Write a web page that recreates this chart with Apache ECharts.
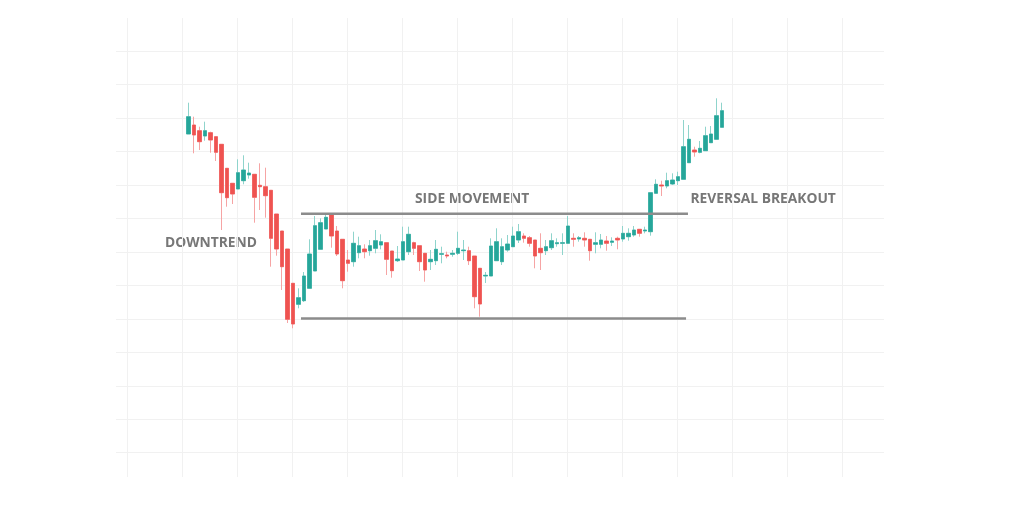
<!DOCTYPE html>
<html>
<head>
<meta charset="utf-8">
<script src="https://cdn.jsdelivr.net/npm/echarts@6/dist/echarts.min.js"></script>
<style>html,body{margin:0;padding:0;background:#fff;}#c{width:1024px;height:513px;}</style>
</head>
<body>
<div id="c"></div>
<script>
// Candle values (price units)
const opens = [36.6,37.5,36.93,36.4,36.73,36.33,35.57,33.17,31.67,31.1,31.93,32.5,32.57,31.47,31.33,30.97,28.6,26.9,25.1,21.67,
  19.57,19.93,21.17,22.9,25.07,27.1,28.5,26.9,26.07,24.0,23.83,24.73,25.1,24.93,25.17,25.5,25.73,24.9,23.93,24.0,
  24.83,25.73,25.43,24.67,23.83,23.93,24.57,24.5,24.57,24.67,24.93,24.93,24.4,23.17,22.4,22.4,23.93,23.83,25.0,25.33,
  26.0,26.4,26.23,26.0,25.17,24.93,25.23,25.63,25.67,25.67,26.17,26.1,26.17,26.07,25.57,25.57,25.9,25.77,26.17,26.1,
  26.33,26.5,27.07,26.9,26.83,30.67,31.5,31.4,31.6,31.93,32.07,33.73,35.0,34.77,34.93,35.73,36.07,37.27];
const closes = [38.33,36.5,35.83,36.93,36.0,34.77,30.73,30.23,30.6,32.73,33.0,32.7,30.27,31.33,30.43,26.17,25.1,23.33,18.07,17.6,
  20.23,22.4,24.6,27.43,27.73,28.27,26.4,24.6,21.93,23.67,25.67,25.43,24.83,25.43,25.93,25.83,24.07,22.93,24.1,25.83,
  26.57,25.17,23.83,23.0,24.07,25.07,24.63,24.4,24.67,25.17,25.0,23.93,20.33,19.6,22.47,25.4,25.83,25.33,25.6,26.4,
  26.83,26.17,25.67,24.4,24.73,25.33,25.93,25.73,25.73,27.4,26.07,26.23,26.0,24.93,25.73,26.0,25.67,25.9,26.0,26.67,
  26.67,27.0,26.67,27.0,30.73,31.57,31.4,31.93,32.0,32.33,35.33,36.07,34.8,35.17,36.43,36.6,38.43,38.93];
const lows = [36.6,34.67,35.0,35.93,34.73,33.9,27.0,29.33,29.6,31.1,31.57,32.13,27.73,29.0,28.23,23.33,24.43,21.0,17.7,17.17,
  19.17,19.8,21.17,22.9,25.07,27.1,25.23,24.4,21.17,22.83,23.33,24.17,24.17,24.43,24.67,25.07,22.5,22.23,23.8,24.0,
  24.5,24.5,22.9,21.83,23.0,23.5,23.67,24.17,24.33,24.5,24.0,23.5,19.17,18.33,21.7,22.4,23.93,23.5,24.83,25.33,
  25.7,25.73,25.33,23.17,23.0,24.5,25.0,25.33,24.5,25.67,25.33,25.83,25.33,23.93,24.67,25.17,24.93,25.4,25.07,25.83,
  25.93,26.33,26.33,26.67,26.43,30.67,30.4,31.17,31.5,31.5,32.07,33.73,34.33,34.67,34.93,35.73,36.07,37.27];
const highs = [39.73,38.33,37.33,37.83,36.83,36.33,35.57,33.17,31.67,34.07,34.47,33.73,32.57,33.67,33.23,30.97,28.6,26.9,25.1,21.67,
  21.17,22.8,26.07,28.4,28.17,28.5,28.5,27.4,26.07,25.0,26.83,26.33,25.57,26.0,27.0,26.57,25.73,24.9,25.4,27.33,
  27.33,25.83,25.43,24.67,25.0,26.0,25.33,24.83,25.0,26.83,26.0,25.33,24.4,23.17,22.8,26.17,27.17,26.17,26.5,27.33,
  27.6,26.67,26.4,26.0,26.67,26.0,26.67,26.17,26.67,28.4,26.67,26.4,26.77,26.07,26.77,26.6,26.4,26.27,26.33,27.4,
  27.17,27.4,27.07,27.33,30.73,32.07,31.93,32.73,32.67,32.83,38.0,37.5,35.33,35.9,37.33,37.4,40.17,39.73];
const categories = opens.map((_, i) => 'D' + (i + 1));
// Support / resistance levels: [startIndex, endIndex, price]
const resistance = [20.49, 90.85, 28.63];
const support = [20.49, 90.5, 18.15];
const labels = ['DOWNTREND', 'SIDE MOVEMENT', 'REVERSAL BREAKOUT'];

const UP = '#26a69a', DOWN = '#ef5350', UPW = '#8fd4cc', DOWNW = '#f6a4a4';
const full = categories.map((_, i) => [opens[i], closes[i], lows[i], highs[i]]);
const bodies = categories.map((_, i) => [opens[i], closes[i], Math.min(opens[i], closes[i]), Math.max(opens[i], closes[i])]);
const hidden = {show: false};
const FONT = 'bold 13.8px "Open Sans"';
const chart = echarts.init(document.getElementById('c'));
chart.setOption({
  animation: false,
  backgroundColor: '#fff',
  grid: [
    {left: 116, right: 140, top: 51, bottom: 60.3},
    {left: 127, right: 182, top: 18, bottom: 36},
    {left: 185.55, width: 539, top: 0, bottom: 0}
  ],
  xAxis: [
    {gridIndex: 0, type: 'value', min: 0, max: 1, show: false},
    {gridIndex: 1, type: 'value', min: 0, max: 13, interval: 1, axisLine: hidden, axisTick: hidden, axisLabel: hidden,
      splitLine: {show: true, lineStyle: {color: '#f1f1f1', width: 1}}},
    {gridIndex: 2, type: 'category', data: categories, show: false, boundaryGap: true},
    {gridIndex: 2, type: 'value', min: -0.5, max: 97.5, show: false, position: 'top'}
  ],
  yAxis: [
    {gridIndex: 0, type: 'value', min: 0, max: 12, interval: 1, axisLine: hidden, axisTick: hidden, axisLabel: hidden,
      splitLine: {show: true, lineStyle: {color: '#f1f1f1', width: 1}}},
    {gridIndex: 1, type: 'value', min: 0, max: 1, show: false, splitLine: hidden},
    {gridIndex: 2, type: 'value', min: -1.3, max: 50, show: false, splitLine: hidden}
  ],
  series: [
    {type: 'candlestick', xAxisIndex: 2, yAxisIndex: 2, data: full, barWidth: 4,
      itemStyle: {color: UP, color0: DOWN, borderColor: UPW, borderColor0: DOWNW, borderWidth: 1}},
    {type: 'candlestick', xAxisIndex: 2, yAxisIndex: 2, data: bodies, barWidth: 4,
      itemStyle: {color: UP, color0: DOWN, borderColor: UP, borderColor0: DOWN, borderWidth: 0.5}},
    {type: 'line', xAxisIndex: 3, yAxisIndex: 2, symbol: 'none', silent: true,
      data: [[resistance[0], resistance[2]], [resistance[1], resistance[2]]],
      lineStyle: {color: '#8c8c8c', width: 2.5}},
    {type: 'line', xAxisIndex: 3, yAxisIndex: 2, symbol: 'none', silent: true,
      data: [[support[0], support[2]], [support[1], support[2]]],
      lineStyle: {color: '#8c8c8c', width: 2.5}}
  ],
  graphic: [
    {type: 'text', x: 165, y: 243, style: {text: labels[0], fill: '#777777', font: FONT, verticalAlign: 'middle'}},
    {type: 'text', x: 415, y: 199, style: {text: labels[1], fill: '#777777', font: FONT, verticalAlign: 'middle'}},
    {type: 'text', x: 690.5, y: 199, style: {text: labels[2], fill: '#777777', font: FONT, verticalAlign: 'middle'}}
  ]
});
</script>
</body>
</html>
